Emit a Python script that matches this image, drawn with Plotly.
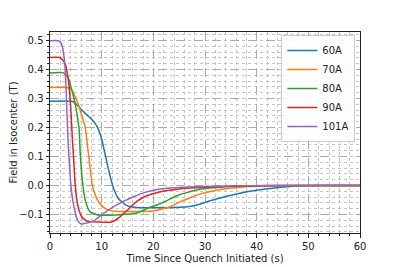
import plotly.graph_objects as go

# Time (s) and field (T), one pair of arrays per series
t_60A = [0, 4.3, 5.2, 6.1, 7.1, 8.0, 8.7, 9.35, 10.0, 10.6, 11.2, 11.8, 12.4, 13.2, 14.5,
         16, 18, 21, 24, 27, 29, 31, 34, 37, 40, 43.5, 48, 52, 60]
v_60A = [0.290, 0.290, 0.278, 0.261, 0.244, 0.229, 0.215, 0.194, 0.160, 0.112, 0.065, 0.020,
         -0.015, -0.044, -0.066, -0.074, -0.077, -0.077, -0.076, -0.073, -0.065, -0.053,
         -0.038, -0.026, -0.017, -0.009, -0.002, 0.0, 0.0]

t_70A = [0, 3.2, 4.2, 4.85, 5.5, 6.1, 6.8, 7.3, 7.7, 8.2, 8.7, 9.2, 9.8, 10.6, 11.6, 12.6,
         14, 17, 20, 21.5, 23.5, 25.2, 27.1, 29, 33, 37, 42, 48, 60]
v_70A = [0.338, 0.338, 0.330, 0.307, 0.278, 0.244, 0.203, 0.130, 0.070, 0.0, -0.030, -0.050,
         -0.066, -0.078, -0.086, -0.089, -0.090, -0.090, -0.088, -0.082, -0.072, -0.056,
         -0.043, -0.030, -0.014, -0.006, -0.002, 0.0, 0.0]

t_80A = [0, 2.6, 3.55, 4.2, 4.85, 5.3, 5.65, 5.85, 6.25, 6.8, 7.7, 9.3, 13.5, 16.8, 19,
         21.6, 25, 27, 29, 33, 38, 45, 60]
v_80A = [0.388, 0.388, 0.370, 0.330, 0.284, 0.238, 0.190, 0.110, 0.020, -0.049, -0.090,
         -0.102, -0.101, -0.095, -0.078, -0.061, -0.032, -0.022, -0.013, -0.006, -0.002,
         0.0, 0.0]

t_90A = [0, 1.9, 2.9, 3.55, 3.87, 4.1, 4.3, 4.55, 4.85, 5.3, 5.7, 6.1, 6.7, 7.4, 9, 11.9,
         13.5, 15.2, 16.8, 18.4, 21.6, 25, 27.1, 31, 36, 42, 60]
v_90A = [0.441, 0.441, 0.422, 0.364, 0.307, 0.240, 0.170, 0.100, 0.008, -0.061, -0.090,
         -0.107, -0.118, -0.124, -0.126, -0.126, -0.109, -0.081, -0.055, -0.038, -0.021,
         -0.012, -0.009, -0.005, -0.002, 0.0, 0.0]

t_101A = [0, 1.6, 2.2, 2.6, 2.9, 3.1, 3.3, 3.5, 3.75, 4.05, 4.35, 4.65, 5.0, 5.4, 6.1, 7.0,
          8.5, 10.3, 12.2, 14.2, 16.3, 18.4, 20.5, 22.6, 26, 30, 35, 40, 60]
v_101A = [0.499, 0.499, 0.490, 0.460, 0.410, 0.340, 0.240, 0.150, 0.075, 0.0, -0.045,
          -0.075, -0.103, -0.122, -0.133, -0.130, -0.122, -0.097, -0.075, -0.055, -0.038,
          -0.024, -0.015, -0.010, -0.006, -0.004, -0.002, -0.001, 0.0]

series_names = ["60A", "70A", "80A", "90A", "101A"]
series_t = [t_60A, t_70A, t_80A, t_90A, t_101A]
series_v = [v_60A, v_70A, v_80A, v_90A, v_101A]
colors = ["#1f77b4", "#ff7f0e", "#2ca02c", "#d62728", "#9467bd"]

x_ticks = [0, 10, 20, 30, 40, 50, 60]
y_ticks = [-0.1, 0.0, 0.1, 0.2, 0.3, 0.4, 0.5]

fig = go.Figure()
for name, t, v, c in zip(series_names, series_t, series_v, colors):
    fig.add_trace(go.Scatter(x=t, y=v, mode="lines", name=name,
                             line=dict(color=c, width=1.5, shape="spline", smoothing=0.5)))

font = dict(family="DejaVu Sans", size=10, color="#222")
fig.update_layout(
    width=400, height=267,
    margin=dict(l=42, r=48, t=24, b=42, autoexpand=False),
    paper_bgcolor="white", plot_bgcolor="white",
    font=font,
    showlegend=True,
    legend=dict(x=0.985, y=0.985, xanchor="right", yanchor="top",
                bgcolor="rgba(255,255,255,0.9)", bordercolor="#cccccc", borderwidth=1,
                font=dict(family="DejaVu Sans", size=10, color="#222"),
                itemwidth=30, tracegroupgap=0),
)
fig.update_xaxes(
    range=[0, 60], tickvals=x_ticks, ticks="outside", ticklen=3.5, tickcolor="#222",
    automargin=False,
    showline=True, linecolor="#222", linewidth=1, mirror=True,
    showgrid=True, gridcolor="#aaaaaa", griddash="dash", gridwidth=0.8,
    zeroline=False,
    minor=dict(dtick=2, showgrid=True, gridcolor="#c4c4c4", griddash="dot", gridwidth=0.8,
               ticks="outside", ticklen=2, tickcolor="#222"),
    title=dict(text="Time Since Quench Initiated (s)", standoff=4,
               font=dict(family="DejaVu Sans", size=10, color="#222")),
)
fig.update_yaxes(
    range=[-0.164, 0.529], tickvals=y_ticks, tickformat=".1f", ticks="outside", ticklen=3.5,
    tickcolor="#222", automargin=False,
    showline=True, linecolor="#222", linewidth=1, mirror=True,
    showgrid=True, gridcolor="#aaaaaa", griddash="dash", gridwidth=0.8,
    zeroline=False,
    minor=dict(dtick=0.02, showgrid=True, gridcolor="#c4c4c4", griddash="dot", gridwidth=0.8,
               ticks="outside", ticklen=2, tickcolor="#222"),
    title=dict(text="Field in Isocenter (T)", standoff=3,
               font=dict(family="DejaVu Sans", size=10, color="#222")),
)

fig.write_html("out.html")
